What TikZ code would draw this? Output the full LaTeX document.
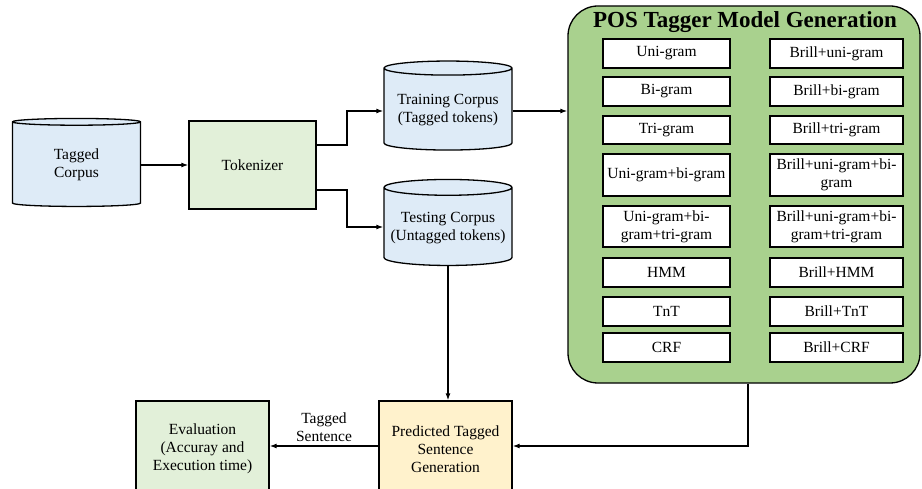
\documentclass[tikz,border=0pt]{standalone}
\usepackage{fontspec}
\setmainfont{Liberation Serif}
\usetikzlibrary{shapes.geometric,arrows.meta}
\definecolor{corpusblue}{HTML}{DEEBF7}
\definecolor{tokgreen}{HTML}{E2F0D9}
\definecolor{predyellow}{HTML}{FFF2CC}
\definecolor{modelgreen}{HTML}{A9D18E}

\begin{document}
\begin{tikzpicture}[x=1pt, y=-1pt, line width=1.3pt,
    font=\fontsize{15.5}{18}\selectfont,
    >={Latex[length=7pt,width=5pt]},
    box/.style={draw, align=center, minimum width=127, minimum height=88},
    corpus/.style={draw, cylinder, shape border rotate=90, aspect=0.13,
        fill=corpusblue, align=center, minimum width=128},
    model/.style={draw, fill=white, align=center, inner sep=1pt}]

    \useasboundingbox (0,0) rectangle (922,489);
    \clip (0,0) rectangle (922,489);

    % Corpus and tokenizer
    \node[corpus, minimum height=88] (tagged) at (76.5,165) {Tagged\\Corpus};
    \node[box, fill=tokgreen] (tok) at (252.5,165) {Tokenizer};
    \node[corpus, minimum height=89] (train) at (448,110.5) {Training Corpus\\(Tagged tokens)};
    \node[corpus, minimum height=86] (test) at (448,228) {Testing Corpus\\(Untagged tokens)};

    % Model generation block
    \node[draw, fill=modelgreen, rounded corners=30pt, minimum width=352, minimum height=377] (gen) at (744,194.5) {};
    \node[font=\fontsize{23}{26}\selectfont\bfseries] (title) at (745,22) {POS Tagger Model Generation};
    \foreach \n/\yc/\h/\lt/\rt in {1/53.5/29/Uni-gram/Brill+uni-gram,
        2/91.5/29/Bi-gram/Brill+bi-gram,
        3/130/28/Tri-gram/Brill+tri-gram,
        4/175/42/Uni-gram+bi-gram/{Brill+uni-gram+bi-\\gram},
        5/226.5/41/{Uni-gram+bi-\\gram+tri-gram}/{Brill+uni-gram+bi-\\gram+tri-gram},
        6/272.5/29/HMM/Brill+HMM,
        7/311.5/29/TnT/Brill+TnT,
        8/347.5/29/CRF/Brill+CRF}
    {
        \node[model, minimum width=127, minimum height=\h] (l\n) at (666.5,\yc) {\lt};
        \node[model, minimum width=133, minimum height=\h] (r\n) at (836.5,\yc) {\rt};
    }

    % Prediction and evaluation
    \node[box, fill=predyellow, minimum width=133, minimum height=96] (pred) at (445.5,449) {Predicted Tagged\\Sentence\\Generation};
    \node[box, fill=tokgreen, minimum width=133, minimum height=96] (eval) at (202.5,449) {Evaluation\\(Accuray and\\Execution time)};

    % Arrows
    \draw[->] (tagged.east |- tok.west) -- (tok.west);
    \draw[->] (tok.east |- 0,145) -| (347,111) -- (train.west |- 0,111);
    \draw[->] (tok.east |- 0,190) -| (347,227) -- (test.west |- 0,227);
    \draw[->] (train.east |- 0,111) -- (gen.west |- 0,111);
    \draw[->] (test.south) -- (test.south |- pred.north);
    \draw[->] (gen.south -| 748,0) |- (pred.east |- 0,446);
    \draw[->] (pred.west |- 0,446) -- node[above, align=center] {Tagged\\Sentence} (eval.east |- 0,446);

\end{tikzpicture}
\end{document}
